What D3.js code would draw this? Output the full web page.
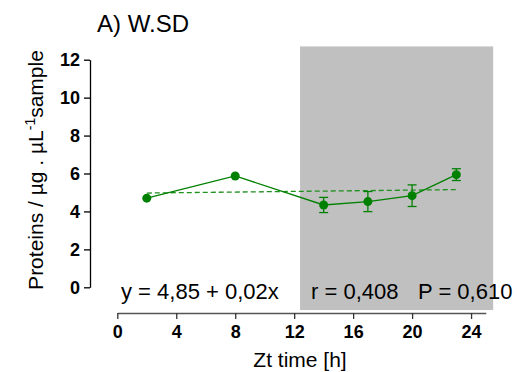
<!DOCTYPE html>
<html><head><meta charset="utf-8">
<script src="https://cdn.jsdelivr.net/npm/d3@7"></script>
<style>body{margin:0;background:#fff;} svg{display:block;font-family:"Liberation Sans",Arial,sans-serif;}</style>
</head><body>
<svg id="c" width="517" height="372"></svg>
<script>
const times = [2, 8, 14, 17, 20, 23];
const means = [4.70, 5.87, 4.34, 4.52, 4.83, 5.94];
const errs = [0, 0, 0.40, 0.53, 0.57, 0.31];
const regX = [2, 23];
const regY = [4.97, 5.15];
const xTicks = [0, 4, 8, 12, 16, 20, 24];
const yTicks = [0, 2, 4, 6, 8, 10, 12];
const shadeX = [12.4, 25.5];
const shadeY = [-1.2, 12.7];
const title = "A) W.SD";
const eqText = "y = 4,85 + 0,02x";
const rText = "r = 0,408";
const pText = "P = 0,610";
const green = "#008000";

const svg = d3.select("#c");
const x = d3.scaleLinear().domain([0, 25]).range([117.3, 485.8]);
const y = d3.scaleLinear().domain([0, 12]).range([287.3, 59.7]);

// shading
svg.append("rect")
  .attr("x", x(shadeX[0])).attr("y", y(shadeY[1]))
  .attr("width", x(shadeX[1]) - x(shadeX[0]))
  .attr("height", y(shadeY[0]) - y(shadeY[1]))
  .attr("fill", "#c0c0c0");

// y axis
const ya = svg.append("g").attr("transform", "translate(90,0)")
  .call(d3.axisLeft(y).tickValues(yTicks).tickSize(6).tickSizeOuter(0).tickPadding(4));
ya.select(".domain").attr("stroke", "#000").attr("stroke-width", 1.3);
ya.selectAll(".tick line").attr("stroke", "#000").attr("stroke-width", 1.3);
ya.selectAll(".tick text").attr("font-size", 18).attr("font-weight", "bold")
  .attr("font-family", "Liberation Sans, Arial, sans-serif").attr("fill", "#000");

// x axis
const xa = svg.append("g").attr("transform", "translate(0,313)")
  .call(d3.axisBottom(x).tickValues(xTicks).tickSize(6).tickSizeOuter(0).tickPadding(6));
xa.select(".domain").attr("stroke", "#555").attr("stroke-width", 1.3);
xa.selectAll(".tick line").attr("stroke", "#333").attr("stroke-width", 1.3);
xa.selectAll(".tick text").attr("font-size", 18).attr("font-weight", "bold")
  .attr("font-family", "Liberation Sans, Arial, sans-serif").attr("fill", "#000");

// regression dashed line
svg.append("line")
  .attr("x1", x(regX[0])).attr("y1", y(regY[0]))
  .attr("x2", x(regX[1])).attr("y2", y(regY[1]))
  .attr("stroke", "#1f8f1f").attr("stroke-width", 1.3).attr("stroke-dasharray", "5,3");

const pts = times.map((t, i) => ({t, m: means[i], e: errs[i]}));

// data line
svg.append("path").datum(pts)
  .attr("d", d3.line().x(d => x(d.t)).y(d => y(d.m)))
  .attr("fill", "none").attr("stroke", green).attr("stroke-width", 1.3);

// error bars
const eb = svg.append("g").attr("stroke", green).attr("stroke-width", 1.3);
pts.filter(d => d.e > 0).forEach(d => {
  eb.append("line").attr("x1", x(d.t)).attr("x2", x(d.t)).attr("y1", y(d.m - d.e)).attr("y2", y(d.m + d.e));
  eb.append("line").attr("x1", x(d.t) - 4.5).attr("x2", x(d.t) + 4.5).attr("y1", y(d.m - d.e)).attr("y2", y(d.m - d.e));
  eb.append("line").attr("x1", x(d.t) - 4.5).attr("x2", x(d.t) + 4.5).attr("y1", y(d.m + d.e)).attr("y2", y(d.m + d.e));
});

// points
svg.append("g").selectAll("circle").data(pts).join("circle")
  .attr("cx", d => x(d.t)).attr("cy", d => y(d.m)).attr("r", 4.5).attr("fill", green);

// texts
svg.append("text").attr("x", 97).attr("y", 32).attr("font-size", 24).attr("fill", "#000").text(title);
svg.append("text").attr("x", 121).attr("y", 299).attr("font-size", 22).attr("fill", "#000").text(eqText);
svg.append("text").attr("x", 311).attr("y", 299).attr("font-size", 22).attr("fill", "#000").text(rText);
svg.append("text").attr("x", 418).attr("y", 299).attr("font-size", 22).attr("fill", "#000").text(pText);
svg.append("text").attr("x", 300).attr("y", 367).attr("text-anchor", "middle").attr("font-size", 21).attr("fill", "#000").text("Zt time [h]");

const yl = svg.append("text").attr("transform", "translate(43,170) rotate(-90)")
  .attr("text-anchor", "middle").attr("font-size", 21).attr("fill", "#000");
yl.append("tspan").text("Proteins / µg . µL");
yl.append("tspan").attr("font-size", 14).attr("dy", -8).text("-1");
yl.append("tspan").attr("dy", 8).text("sample");
</script>
</body></html>
